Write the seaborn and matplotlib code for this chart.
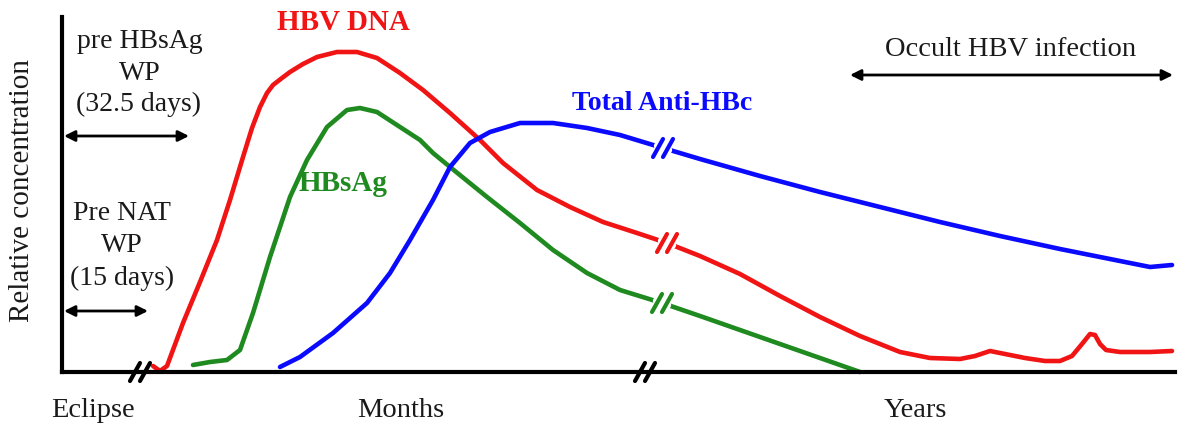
import numpy as np
import matplotlib
matplotlib.use('Agg')
import matplotlib.pyplot as plt
import seaborn as sns

# Curve shapes (x = time position, y = relative concentration)
dna_x = [153, 160, 167, 183, 200, 217, 230, 243, 252, 260, 267, 273, 282, 290, 303, 317, 337,
         357, 377, 400, 423, 450, 480, 503, 537, 570, 603, 637, 667, 700, 740, 780, 820, 860,
         900, 930, 960, 975, 990, 1005, 1025, 1045, 1060, 1072, 1082, 1090, 1095, 1100, 1106,
         1120, 1150, 1172]
dna_y = [6, 1, 6, 49, 90, 132, 172, 215, 244, 265, 279, 287, 294, 300, 308, 315, 320,
         320, 314, 299, 282, 259, 232, 209, 182, 165, 150, 139, 129, 116, 98, 76, 55, 36,
         20, 14, 13, 16, 21, 18, 14, 11, 11, 16, 28, 38, 37, 28, 22,
         20, 20, 21]

hbsag_x = [193, 210, 227, 240, 253, 270, 290, 307, 327, 347, 360, 377, 400, 420, 433, 450, 487,
           520, 553, 587, 620, 662, 700, 740, 780, 820, 860]
hbsag_y = [7, 10, 12, 22, 59, 115, 175, 212, 245, 262, 264, 260, 245, 232, 219, 205, 175,
           149, 122, 99, 82, 69, 56, 42, 28, 14, 0]

anti_x = [280, 300, 333, 367, 390, 410, 433, 450, 470, 490, 520, 553, 587, 620, 663,
          700, 760, 820, 880, 940, 1000, 1060, 1110, 1150, 1172]
anti_y = [5, 15, 39, 69, 99, 132, 172, 205, 229, 240, 249, 249, 244, 237, 224,
          213, 196, 180, 165, 150, 136, 123, 113, 105, 107]

curve_names = ['HBV DNA', 'HBsAg', 'Total Anti-HBc']
curve_colors = ['#f01414', '#1f8a1f', '#0a0aff']
curve_breaks = [667, 662, 663]
axis_breaks = [140, 645]
x_labels = ['Eclipse', 'Months', 'Years']
x_label_pos = [93, 401, 915]

sns.set_style('white')
plt.rcParams['font.family'] = ['Liberation Serif', 'DejaVu Serif']

W, H = 1187, 423
fig = plt.figure(figsize=(W / 100, H / 100), dpi=100)
x0, x1, ybase, ytop = 62, 1175, 372, 17
ax = fig.add_axes([x0 / W, (H - ybase) / H, (x1 - x0) / W, (ybase - ytop) / H])
ax.set_xlim(x0, x1)
ax.set_ylim(0, ybase - ytop)
for s in ['top', 'right']:
    ax.spines[s].set_visible(False)
for s in ['left', 'bottom']:
    ax.spines[s].set_linewidth(3)
    ax.spines[s].set_color('black')
ax.set_xticks([])
ax.set_yticks([])

txt_color = '#1a1a1a'


def slash_pair(xc, yc, color, gap_color=None):
    # two short slanted strokes marking a break
    if gap_color:
        ax.plot([xc - 5, xc + 5], [yc + 2, yc - 2], color=gap_color, lw=6, clip_on=False, zorder=4)
    for dx in (-5, 5):
        ax.plot([xc + dx - 5, xc + dx + 5], [yc - 9, yc + 9], color=color, lw=3,
                solid_capstyle='round', clip_on=False, zorder=5)


data = [(dna_x, dna_y), (hbsag_x, hbsag_y), (anti_x, anti_y)]
for (xs, ys), name, col, bx in zip(data, curve_names, curve_colors, curve_breaks):
    sns.lineplot(x=xs, y=ys, color=col, lw=3.3, ax=ax, sort=False, estimator=None,
                 clip_on=False, solid_joinstyle='round', solid_capstyle='round')
    slash_pair(bx, np.interp(bx, xs, ys), col, gap_color='white')

for bx in axis_breaks:
    slash_pair(bx, 0, 'black')

# curve labels
ax.text(343, ybase - 22, 'HBV DNA', color=curve_colors[0], fontsize=21, fontweight='bold',
        ha='center', va='center', clip_on=False)
ax.text(343, ybase - 183, 'HBsAg', color=curve_colors[1], fontsize=21, fontweight='bold',
        ha='center', va='center')
ax.text(662, ybase - 103, 'Total Anti-HBc', color=curve_colors[2], fontsize=20, fontweight='bold',
        ha='center', va='center')

# window-period annotations
for txt, px, py in [('pre HBsAg', 140, 42), ('WP', 140, 73), ('(32.5 days)', 139, 104),
                    ('Pre NAT', 122, 213), ('WP', 122, 245), ('(15 days)', 122, 278)]:
    ax.text(px, ybase - py, txt, fontsize=20, color=txt_color, ha='center', va='center',
            clip_on=False)

arrow_kw = dict(arrowstyle='<|-|>', color='black', lw=2, mutation_scale=16, shrinkA=0, shrinkB=0)
ax.annotate('', xy=(64, ybase - 136), xytext=(189, ybase - 136), arrowprops=arrow_kw)
ax.annotate('', xy=(64, ybase - 311), xytext=(148, ybase - 311), arrowprops=arrow_kw)
ax.annotate('', xy=(850, ybase - 75), xytext=(1173, ybase - 75), arrowprops=arrow_kw,
            annotation_clip=False)
ax.text(1011, ybase - 50, 'Occult HBV infection', fontsize=20.5, color=txt_color,
        ha='center', va='center', clip_on=False)

ax.text(22, ybase - 191, 'Relative concentration', fontsize=21, rotation=90, color=txt_color,
        ha='center', va='center', clip_on=False)
for lab, px in zip(x_labels, x_label_pos):
    ax.text(px, ybase - 410, lab, fontsize=20.5, color=txt_color, ha='center', va='center',
            clip_on=False)

fig.savefig('out.png', dpi=100)
